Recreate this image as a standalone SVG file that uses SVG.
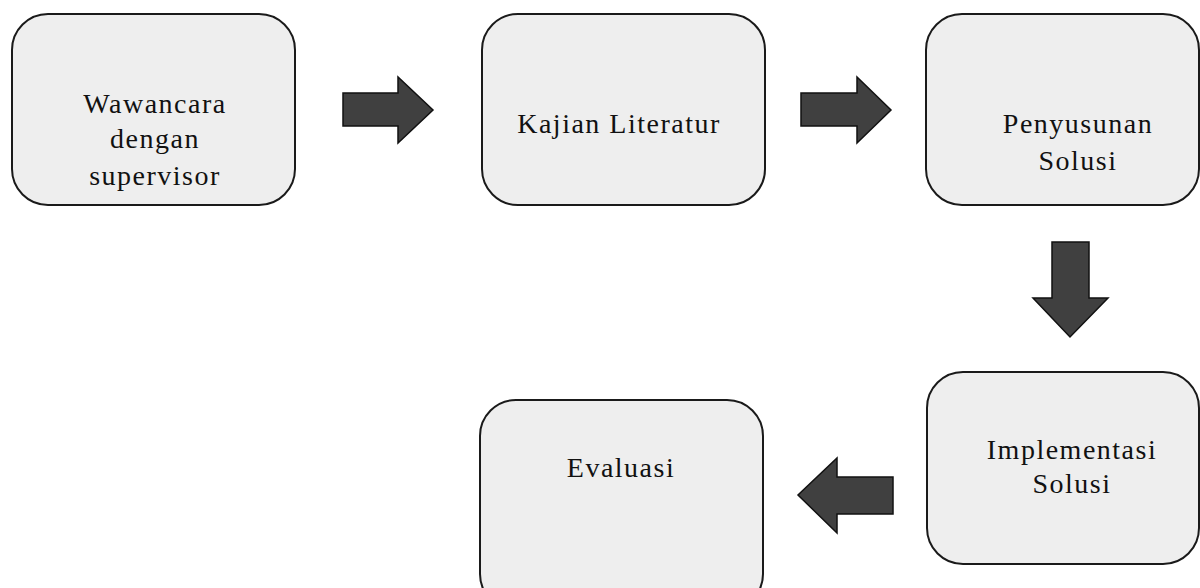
<svg xmlns="http://www.w3.org/2000/svg" width="1200" height="588" viewBox="0 0 1200 588">
<style>
.box{fill:#eeeeee;stroke:#1a1a1a;stroke-width:2}
.lbl{font-family:'Liberation Serif',Tinos,'Times New Roman',Times,serif;font-size:28px;fill:#111;text-anchor:middle;letter-spacing:1.5px}
.arr{fill:#404040;stroke:#111;stroke-width:1.5;stroke-linejoin:miter}
</style>
<rect width="1200" height="588" fill="#ffffff"/>
<g id="n1">
<rect class="box" x="12" y="14" width="283" height="191" rx="36" ry="36"/>
<text class="lbl" x="155" y="113">Wawancara</text>
<text class="lbl" x="155" y="148">dengan</text>
<text class="lbl" x="155" y="185">supervisor</text>
</g>
<g id="n2">
<rect class="box" x="482" y="14" width="283" height="191" rx="36" ry="36"/>
<text class="lbl" x="619" y="133">Kajian Literatur</text>
</g>
<g id="n3">
<rect class="box" x="926" y="14" width="273" height="191" rx="36" ry="36"/>
<text class="lbl" x="1078" y="133">Penyusunan</text>
<text class="lbl" x="1078" y="170">Solusi</text>
</g>
<g id="n4">
<rect class="box" x="927" y="372" width="272" height="192" rx="36" ry="36"/>
<text class="lbl" x="1072" y="459">Implementasi</text>
<text class="lbl" x="1072" y="493">Solusi</text>
</g>
<g id="n5">
<rect class="box" x="480" y="400" width="283" height="210" rx="36" ry="36"/>
<text class="lbl" x="621" y="477">Evaluasi</text>
</g>
<g id="connectors">
<polygon class="arr" points="343,93 398,93 398,77 433,110 398,143 398,126 343,126"/>
<polygon class="arr" points="801,93 857,93 857,77 891,110 857,143 857,126 801,126"/>
<polygon class="arr" points="1052,242 1089,242 1089,298 1108,298 1070,337 1033,298 1052,298"/>
<polygon class="arr" points="893,477 837,477 837,458 798,495 837,533 837,514 893,514"/>
</g>
</svg>
